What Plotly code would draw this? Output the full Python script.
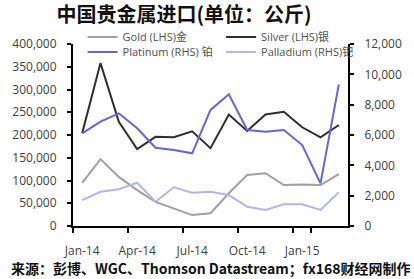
import plotly.graph_objects as go

months = ["Jan-14", "Feb-14", "Mar-14", "Apr-14", "May-14", "Jun-14", "Jul-14", "Aug-14",
          "Sep-14", "Oct-14", "Nov-14", "Dec-14", "Jan-15", "Feb-15", "Mar-15"]
gold = [95000, 147000, 108000, 79000, 53000, 39000, 24000, 28000,
        72000, 112000, 116000, 90000, 91000, 90000, 114000]
silver = [204000, 358000, 229000, 169000, 196000, 195000, 208000, 171000,
          245000, 209000, 245000, 251000, 217000, 195000, 222000]
platinum = [6110, 6880, 7430, 6440, 5160, 5010, 4790, 7650,
            8680, 6330, 6220, 6330, 5340, 2810, 9340]
palladium = [1710, 2260, 2420, 2850, 1600, 2550, 2200, 2260,
             2040, 1270, 1060, 1430, 1430, 1060, 2220]
tick_labels = ["Jan-14", "Apr-14", "Jul-14", "Oct-14", "Jan-15"]

W, H = 414, 279
L, R, T, B = 69, 355, 44, 226

def px_x(p):
    return (p - L) / (R - L)

def px_y(p):
    return (B - p) / (B - T)

FONT = "Open Sans, Noto Sans CJK SC, sans-serif"
CJK = "Noto Sans CJK SC, sans-serif"

fig = go.Figure()
fig.add_trace(go.Scatter(x=months, y=gold, mode="lines", name="Gold (LHS)金", showlegend=True,
                         line=dict(color="#a0a0a0", width=2), legend="legend"))
fig.add_trace(go.Scatter(x=months, y=silver, mode="lines", name="Silver (LHS)银", showlegend=True,
                         line=dict(color="#2e2e2e", width=2), legend="legend2"))
fig.add_trace(go.Scatter(x=months, y=platinum, mode="lines", name="Platinum (RHS) 铂", showlegend=True,
                         line=dict(color="#6464dc", width=2), yaxis="y2", legend="legend3"))
fig.add_trace(go.Scatter(x=months, y=palladium, mode="lines", name="Palladium (RHS)钯", showlegend=True,
                         line=dict(color="#b4b4f2", width=2), yaxis="y2", legend="legend4"))

leg_common = dict(bgcolor="rgba(0,0,0,0)", font=dict(family=FONT, size=11, color="#505050"),
                  xanchor="left", yanchor="middle", orientation="v", visible=True)
fig.update_layout(
    width=W, height=H,
    showlegend=True,
    margin=dict(l=L, r=W - R, t=T, b=H - B),
    paper_bgcolor="white", plot_bgcolor="white",
    font=dict(family=FONT, size=12, color="#404040"),
    title=dict(text="<b>中国贵金属进口(单位：公斤)</b>", x=184 / W, xanchor="center",
               y=1 - 15 / H, yanchor="middle",
               font=dict(family=CJK, size=20, color="#111111")),
    legend=dict(x=px_x(79), y=px_y(37), **leg_common),
    legend2=dict(x=px_x(223), y=px_y(37), **leg_common),
    legend3=dict(x=px_x(79), y=px_y(52), **leg_common),
    legend4=dict(x=px_x(223), y=px_y(52), **leg_common),
    xaxis=dict(type="category", range=[-0.5, len(months) - 0.5],
               tickmode="array", tickvals=tick_labels, ticktext=tick_labels,
               tickson="boundaries", ticks="outside", ticklen=5, tickwidth=2, tickangle=0,
               tickcolor="black", showline=True, linecolor="black", linewidth=2,
               showgrid=False, ticklabelstandoff=13,
               tickfont=dict(family=FONT, size=12, color="#404040")),
    yaxis=dict(range=[0, 400000], dtick=50000, tickformat=",", ticks="outside",
               ticklen=4, tickwidth=2, tickcolor="black", showline=True,
               linecolor="black", linewidth=2, showgrid=False, zeroline=False,
               ticklabelstandoff=8, tickfont=dict(family=FONT, size=12, color="#404040")),
    yaxis2=dict(range=[0, 12000], dtick=2000, tickformat=",", overlaying="y", side="right",
                ticks="outside", ticklen=4, tickwidth=2, tickcolor="black", showline=True,
                linecolor="black", linewidth=2, showgrid=False, zeroline=False,
                ticklabelstandoff=8, tickfont=dict(family=FONT, size=12, color="#404040")),
    annotations=[dict(text="<b>来源：彭博、WGC、Thomson Datastream；fx168财经网制作</b>",
                      xref="paper", yref="paper", x=px_x(2), y=px_y(268),
                      xanchor="left", yanchor="middle", showarrow=False,
                      font=dict(family=CJK, size=14, color="#111111"))],
)

fig.write_html("out.html")
